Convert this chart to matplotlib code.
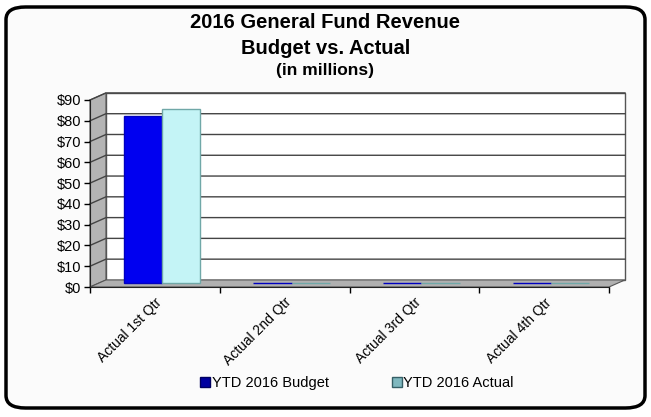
import matplotlib.pyplot as plt
import numpy as np
from matplotlib.patches import Polygon, Rectangle, FancyBboxPatch, Patch

plt.rcParams['font.family'] = ['Liberation Sans', 'DejaVu Sans']

# Data (in millions)
quarters = ["Actual 1st Qtr", "Actual 2nd Qtr", "Actual 3rd Qtr", "Actual 4th Qtr"]
budget = [80.4, 0, 0, 0]
actual = [83.8, 0, 0, 0]
yticks = [0, 10, 20, 30, 40, 50, 60, 70, 80, 90]

# Depth of the fake 3D box (data units)
ddx = 0.123
ddy = 3.4

fig = plt.figure(figsize=(6.51, 4.17), dpi=100)
fig.patch.set_facecolor('white')

# Rounded outer border
border = FancyBboxPatch((6 / 651, 9 / 417), 639 / 651, 401 / 417,
                        boxstyle="round,pad=0,rounding_size=0.03",
                        transform=fig.transFigure, facecolor='#fbfbfb',
                        edgecolor='black', linewidth=2.5, zorder=-5)
fig.patches.append(border)

ax = fig.add_axes([90 / 651, (417 - 287) / 417, 519 / 651, 187 / 417])
ax.set_zorder(1)
ax.set_facecolor('none')
ax.set_xlim(0, 4)
ax.set_ylim(0, 90)

# Back wall
ax.add_patch(Rectangle((ddx, ddy), 4, 90, facecolor='white', edgecolor='#555555',
                       linewidth=1, clip_on=False, zorder=0))
# Left wall
ax.add_patch(Polygon([(0, 0), (0, 90), (ddx, 90 + ddy), (ddx, ddy)], closed=True,
                     facecolor='#b4b4b4', edgecolor='#555555', linewidth=0.8,
                     clip_on=False, zorder=1))
# Floor
ax.add_patch(Polygon([(0, 0), (4, 0), (4 + ddx, ddy), (ddx, ddy)], closed=True,
                     facecolor='#b0b0b0', edgecolor='#555555', linewidth=0.8,
                     clip_on=False, zorder=1))

# Gridlines on the walls
for v in yticks[1:]:
    ax.plot([0, ddx, 4 + ddx], [v, v + ddy, v + ddy], color='#444444',
            linewidth=1, clip_on=False, zorder=1.5)

# Bars at half depth
x = np.arange(len(quarters))
w = 0.295
ax.bar(x + 0.345 + ddx / 2, budget, w, bottom=ddy / 2, color='#0000f0',
       edgecolor='#0000c0', linewidth=1, zorder=3, clip_on=False)
ax.bar(x + 0.64 + ddx / 2, actual, w, bottom=ddy / 2, color='#c4f4f6',
       edgecolor='#70a8a8', linewidth=1, zorder=3, clip_on=False)

# Axes styling
for s in ['top', 'right']:
    ax.spines[s].set_visible(False)
ax.spines['left'].set_color('#222222')
ax.spines['bottom'].set_color('#222222')
ax.set_yticks(yticks)
ax.set_yticklabels(['$%d' % v for v in yticks], fontsize=10.5)
ax.tick_params(axis='y', length=4, width=1, pad=2)
ax.set_xticks(range(5))
ax.set_xticklabels([])
ax.tick_params(axis='x', which='major', length=4, width=1)
ax.set_xticks(x + 0.5, minor=True)
ax.set_xticklabels(quarters, minor=True, rotation=45, ha='right',
                   rotation_mode='anchor', fontsize=10)
ax.tick_params(axis='x', which='minor', length=0, pad=6)

# Titles
fig.text(0.5, 1 - 23 / 417, "2016 General Fund Revenue", ha='center', va='center',
         fontsize=14.5, fontweight='bold')
fig.text(0.5, 1 - 49 / 417, "Budget vs. Actual", ha='center', va='center',
         fontsize=14.5, fontweight='bold')
fig.text(0.5, 1 - 70 / 417, "(in millions)", ha='center', va='center',
         fontsize=12.5, fontweight='bold')

# Legend
handles = [Patch(facecolor='#0000a0', edgecolor='#000060'),
           Patch(facecolor='#7fb8bf', edgecolor='#355f66')]
fig.legend(handles, ["YTD 2016 Budget", "YTD 2016 Actual"], loc='center',
           bbox_to_anchor=(357 / 651, 1 - 383 / 417), ncol=2, frameon=False,
           fontsize=10.5, handlelength=0.7, handleheight=0.7, handletextpad=0.1,
           columnspacing=4.3)

plt.savefig("out.png", dpi=100)
